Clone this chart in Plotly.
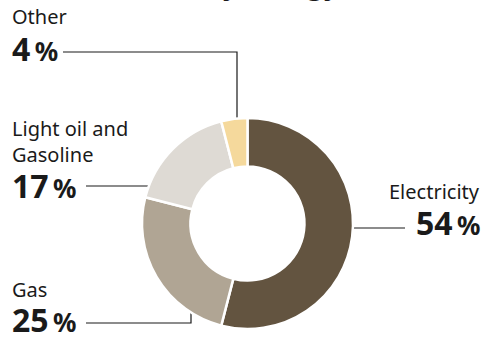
import plotly.graph_objects as go

# data
labels = ["Electricity", "Gas", "Light oil and<br>Gasoline", "Other"]
values = [54, 25, 17, 4]
colors = ["#635440", "#b0a594", "#dedad4", "#f5d99c"]

W, H = 486, 340
FONT = "Noto Sans"

# donut geometry in pixels (top-left origin)
cx, cy, r = 247.5, 223.5, 105.5

fig = go.Figure()

fig.add_trace(go.Pie(
    values=values,
    labels=labels,
    marker=dict(colors=colors, line=dict(color="white", width=2.5)),
    hole=0.54,
    sort=False,
    direction="clockwise",
    rotation=0,
    textinfo="none",
    hoverinfo="label+percent",
    showlegend=False,
    domain=dict(x=[(cx - r) / W, (cx + r) / W],
                y=[1 - (cy + r) / H, 1 - (cy - r) / H]),
))

# leader lines: dot on slice -> elbow -> end near label (pixel coords)
leaders = [
    [(333, 228), (405, 228)],
    [(191, 294), (191, 323), (86, 323)],
    [(170, 186), (86, 186)],
    [(237, 137), (237, 52), (63, 52)],
]
# label blocks: (x, anchor, name center y, number center y)
label_pos = [
    (482, "right", 191, 222),
    (10, "left", 289, 319),
    (10, "left", 141, 185),
    (10, "left", 16, 48),
]

for pts in leaders:
    fig.add_trace(go.Scatter(
        x=[p[0] for p in pts], y=[p[1] for p in pts],
        mode="lines", line=dict(color="#1a1a1a", width=1.2),
        hoverinfo="skip", showlegend=False,
    ))
    fig.add_trace(go.Scatter(
        x=[pts[0][0]], y=[pts[0][1]],
        mode="markers",
        marker=dict(color="white", size=6, line=dict(color="#1a1a1a", width=1.2)),
        hoverinfo="skip", showlegend=False,
    ))

annotations = []
for lab, val, (x, anc, yname, ynum) in zip(labels, values, label_pos):
    annotations.append(dict(
        x=x, y=yname, xref="x", yref="y", text=lab, showarrow=False,
        xanchor=anc, yanchor="middle", align=anc,
        font=dict(family=FONT, size=20, color="#1a1a1a"),
    ))
    annotations.append(dict(
        x=x, y=ynum, xref="x", yref="y",
        text="<b>%d</b><span style='font-size:26px'><b>\u2009%%</b></span>" % val,
        showarrow=False, xanchor=anc, yanchor="middle",
        font=dict(family=FONT, size=32, color="#1a1a1a"),
    ))

# title, mostly above the visible area
annotations.append(dict(
    x=8, y=5, xref="x", yref="y", text="<b>CO₂ emissions by energy</b>",
    showarrow=False, xanchor="left", yanchor="bottom",
    font=dict(family=FONT, size=27, color="#1a1a1a"),
))

fig.update_xaxes(range=[0, W], visible=False, fixedrange=True)
fig.update_yaxes(range=[H, 0], visible=False, fixedrange=True)

fig.update_layout(
    width=W, height=H,
    margin=dict(l=0, r=0, t=0, b=0),
    paper_bgcolor="white",
    plot_bgcolor="rgba(0,0,0,0)",
    annotations=annotations,
)

fig.write_html("out.html", config={"displayModeBar": False},
               post_script="document.body.style.margin='0';document.body.style.overflow='hidden';")
